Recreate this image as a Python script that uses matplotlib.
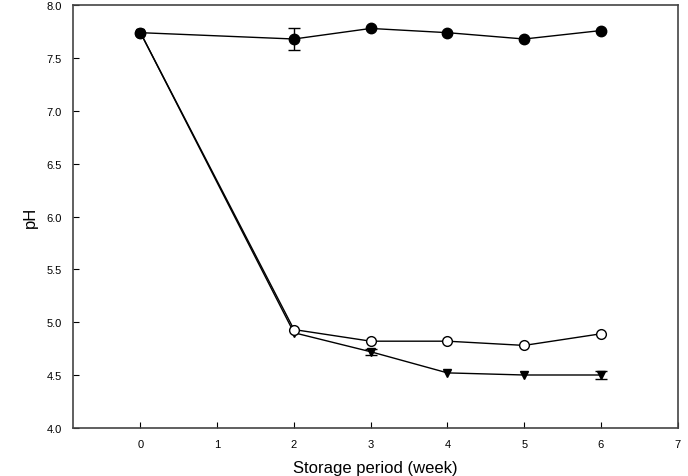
import numpy as np
import matplotlib.pyplot as plt

plt.rcParams['font.family'] = ['Liberation Sans', 'DejaVu Sans']

# Data
weeks = [0, 2, 3, 4, 5, 6]
ph_control = [7.74, 7.68, 7.78, 7.74, 7.68, 7.76]
err_control = [0.0, 0.10, 0.0, 0.0, 0.0, 0.0]
ph_open = [7.74, 4.93, 4.82, 4.82, 4.78, 4.89]
err_open = [0.0, 0.0, 0.0, 0.0, 0.0, 0.0]
ph_tri = [7.74, 4.90, 4.72, 4.52, 4.50, 4.50]
err_tri = [0.0, 0.0, 0.03, 0.0, 0.0, 0.04]

xticks = [0, 1, 2, 3, 4, 5, 6, 7]
yticks = [4.0, 4.5, 5.0, 5.5, 6.0, 6.5, 7.0, 7.5, 8.0]

fig = plt.figure(figsize=(6.88, 4.77), dpi=100)
ax = fig.add_axes([0.106, 0.101, 0.879, 0.886])


def draw(y, err, mfc, marker, ms, z):
    ax.plot(weeks, y, color='black', lw=1, marker=marker, ms=ms,
            mfc=mfc, mec='black', mew=1, zorder=z)
    # error bars only where there is a visible spread
    xs = [w for w, e in zip(weeks, err) if e > 0]
    ys = [v for v, e in zip(y, err) if e > 0]
    es = [e for e in err if e > 0]
    if xs:
        ax.errorbar(xs, ys, yerr=es, fmt='none', ecolor='black',
                    elinewidth=1, capsize=4, zorder=z - 0.5)


draw(ph_tri, err_tri, 'black', 'v', 5.5, 3)
draw(ph_open, err_open, 'white', 'o', 7, 4)
draw(ph_control, err_control, 'black', 'o', 7.5, 5)

ax.set_xlim(-0.88, 7)
ax.set_ylim(4.0, 8.0)
ax.set_xticks(xticks)
ax.set_yticks(yticks)
ax.set_yticklabels(['%.1f' % v for v in yticks])
ax.tick_params(direction='in', labelsize=8, length=4, top=False, right=False, pad=8)

for s in ax.spines.values():
    s.set_color('#444444')
    s.set_linewidth(1.2)

ax.set_xlabel('Storage period (week)', fontsize=12, labelpad=8)
ax.set_ylabel('pH', fontsize=12, labelpad=6)

plt.savefig('out.png', dpi=100)
